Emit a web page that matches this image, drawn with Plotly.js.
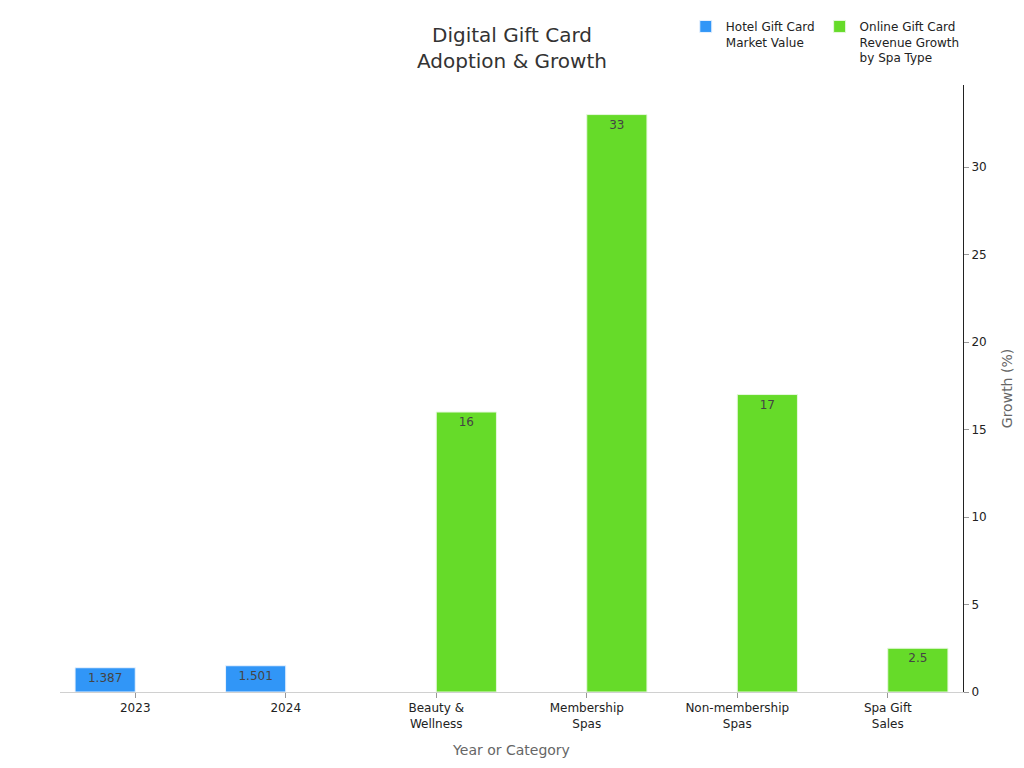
<!DOCTYPE html>
<html>
<head>
<meta charset="utf-8">
<script src="https://cdn.plot.ly/plotly-3.0.1.min.js"></script>
<style>html,body{margin:0;padding:0;background:#fff;}#chart{width:1024px;height:768px;}</style>
</head>
<body>
<div id="chart"></div>
<script>
const categories = ["2023", "2024", "Beauty &<br>Wellness", "Membership<br>Spas", "Non-membership<br>Spas", "Spa Gift<br>Sales"];
const hotelValues = [1.387, 1.501, null, null, null, null];
const hotelLabels = ["1.387", "1.501", "", "", "", ""];
const spaValues = [null, null, 16, 33, 17, 2.5];
const spaLabels = ["", "", "16", "33", "17", "2.5"];
const yTickVals = [0, 5, 10, 15, 20, 25, 30];

const font = "DejaVu Sans, sans-serif";
const traces = [
  {
    type: "bar", name: "Hotel Gift Card<br>Market Value",
    x: categories, y: hotelValues, text: hotelLabels,
    textposition: "inside", insidetextanchor: "end", textangle: 0,
    textfont: {family: font, size: 12, color: "#444"},
    marker: {color: "#3196f7", line: {color: "#e8f2fe", width: 1}},
    hoverinfo: "skip"
  },
  {
    type: "bar", name: "Online Gift Card<br>Revenue Growth<br>by Spa Type",
    x: categories, y: spaValues, text: spaLabels,
    textposition: "inside", insidetextanchor: "end", textangle: 0,
    textfont: {family: font, size: 12, color: "#444"},
    marker: {color: "#66db29", line: {color: "#e6f8de", width: 1}},
    hoverinfo: "skip"
  }
];
const layout = {
  width: 1024, height: 768,
  margin: {l: 60, r: 61, t: 85, b: 76},
  paper_bgcolor: "#fff", plot_bgcolor: "#fff",
  font: {family: font, size: 12, color: "#222"},
  barmode: "group", bargap: 0.2, bargroupgap: 0,
  title: {text: "Digital Gift Card<br>Adoption & Growth", x: 0.5, xanchor: "center", y: 0.945, yanchor: "middle", font: {family: font, size: 20, color: "#333"}},
  showlegend: true,
  legend: {orientation: "h", x: 0.693, xanchor: "left", y: 1.12, yanchor: "top", font: {family: font, size: 12, color: "#222"}, itemwidth: 30, traceorder: "normal", valign: "top"},
  xaxis: {
    type: "category", range: [-0.5, 5.5],
    showline: true, linecolor: "#d0d0d0", linewidth: 1,
    ticks: "outside", tickcolor: "#999", ticklen: 5,
    showgrid: false, zeroline: false,
    tickfont: {family: font, size: 12, color: "#222"},
    title: {text: "Year or Category", font: {family: font, size: 14, color: "#666"}, standoff: 15}
  },
  yaxis: {
    side: "right", range: [0, 34.69],
    tickvals: yTickVals,
    showline: true, linecolor: "#222", linewidth: 1,
    ticks: "outside", tickcolor: "#999", ticklen: 5,
    showgrid: false, zeroline: false,
    tickfont: {family: font, size: 12, color: "#222"},
    title: {text: "Growth (%)", font: {family: font, size: 14, color: "#666"}, standoff: 16}
  }
};
Plotly.newPlot("chart", traces, layout, {displayModeBar: false, staticPlot: true});
</script>
</body>
</html>
